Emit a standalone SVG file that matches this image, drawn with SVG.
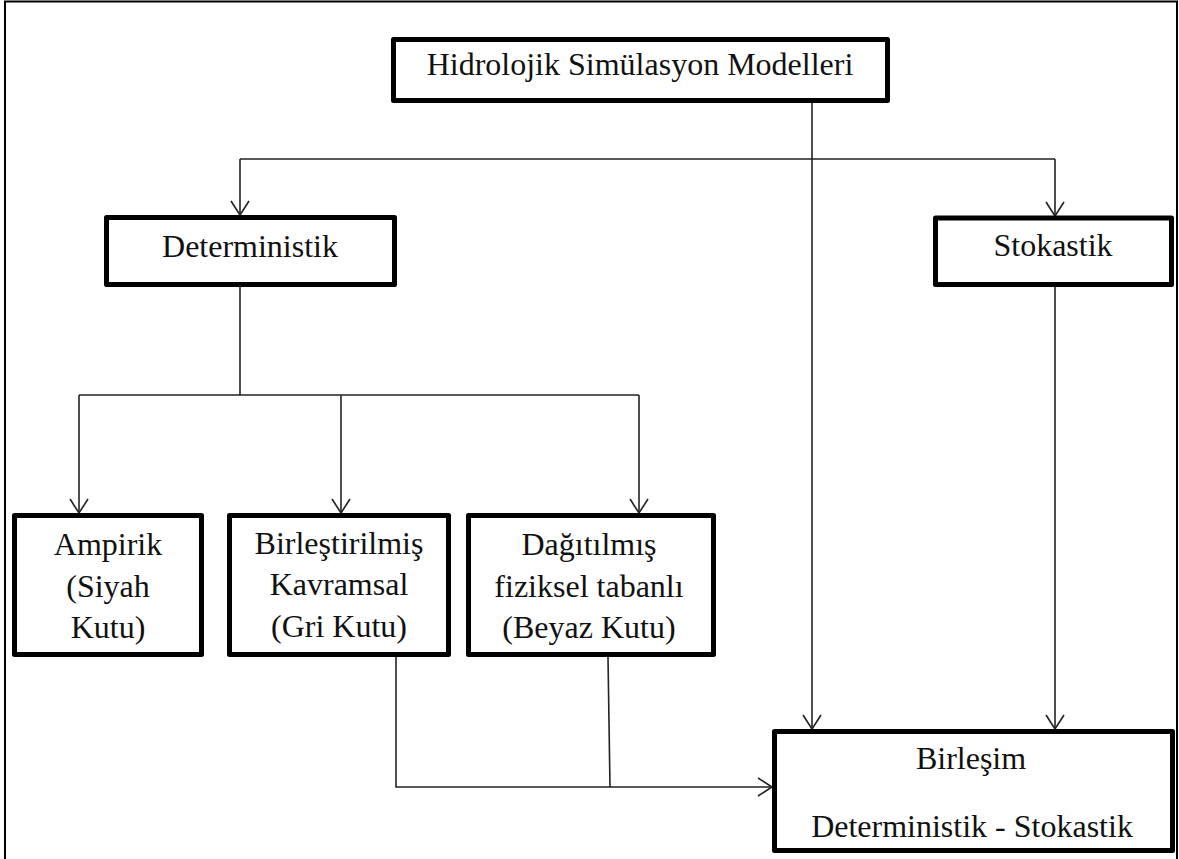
<svg xmlns="http://www.w3.org/2000/svg" width="1179" height="859" viewBox="0 0 1179 859">
  <defs>
    <marker id="arr" markerUnits="userSpaceOnUse" markerWidth="30" markerHeight="30" viewBox="-20 -15 30 30" refX="0" refY="0" orient="auto">
      <path d="M-14,-9 L0,0 L-14,9" fill="none" stroke="#222" stroke-width="1.6"/>
    </marker>
    <style>
      .box { fill: #fff; stroke: #000; stroke-width: 5; stroke-linejoin: round; }
      .t { font-family: 'Liberation Serif', 'DejaVu Serif', serif; font-size: 32px; fill: #111; text-anchor: middle; }
      .c { fill: none; stroke: #222; stroke-width: 1.6; }
      .frame { fill: none; stroke: #000; stroke-width: 2; }
    </style>
  </defs>
  <rect x="0" y="0" width="1179" height="859" fill="#fff"/>
  <rect class="frame" x="5" y="1.5" width="1172" height="870"/>

  <g id="connectors">
    <path class="c" d="M812,103 V729" marker-end="url(#arr)"/>
    <path class="c" d="M240,159 H1055"/>
    <path class="c" d="M240,159 V215" marker-end="url(#arr)"/>
    <path class="c" d="M1055,159 V216" marker-end="url(#arr)"/>
    <path class="c" d="M240,287 V395"/>
    <path class="c" d="M79,395 H639"/>
    <path class="c" d="M79,395 V513" marker-end="url(#arr)"/>
    <path class="c" d="M341,395 V513" marker-end="url(#arr)"/>
    <path class="c" d="M639,395 V513" marker-end="url(#arr)"/>
    <path class="c" d="M1055,287 V729" marker-end="url(#arr)"/>
    <path class="c" d="M396,657 V787 H772" marker-end="url(#arr)"/>
    <path class="c" d="M608,657 L610,787"/>
  </g>

  <g id="node-hidrolojik">
    <rect class="box" x="393.5" y="39.5" width="494" height="61"/>
    <text class="t" font-family="Liberation Serif" x="640" y="75">Hidrolojik Simülasyon Modelleri</text>
  </g>
  <g id="node-deterministik">
    <rect class="box" x="106.5" y="217.5" width="288" height="67"/>
    <text class="t" x="250" y="257">Deterministik</text>
  </g>
  <g id="node-stokastik">
    <rect class="box" x="935.5" y="218" width="236" height="66.5"/>
    <text class="t" x="1053" y="256">Stokastik</text>
  </g>
  <g id="node-ampirik">
    <rect class="box" x="14.5" y="515.5" width="187" height="139"/>
    <text class="t" x="108" y="555">Ampirik</text>
    <text class="t" x="108" y="597">(Siyah</text>
    <text class="t" x="108" y="638">Kutu)</text>
  </g>
  <g id="node-birlestirilmis">
    <rect class="box" x="229.5" y="515.5" width="219" height="139"/>
    <text class="t" x="339" y="554">Birleştirilmiş</text>
    <text class="t" x="339" y="595">Kavramsal</text>
    <text class="t" x="339" y="637">(Gri Kutu)</text>
  </g>
  <g id="node-dagitilmis">
    <rect class="box" x="468.5" y="515.5" width="245" height="139"/>
    <text class="t" x="589" y="555">Dağıtılmış</text>
    <text class="t" x="589" y="597">fiziksel tabanlı</text>
    <text class="t" x="589" y="638">(Beyaz Kutu)</text>
  </g>
  <g id="node-birlesim">
    <rect class="box" x="774.5" y="731.5" width="398" height="119"/>
    <text class="t" x="971" y="769">Birleşim</text>
    <text class="t" x="972" y="837">Deterministik - Stokastik</text>
  </g>
</svg>
